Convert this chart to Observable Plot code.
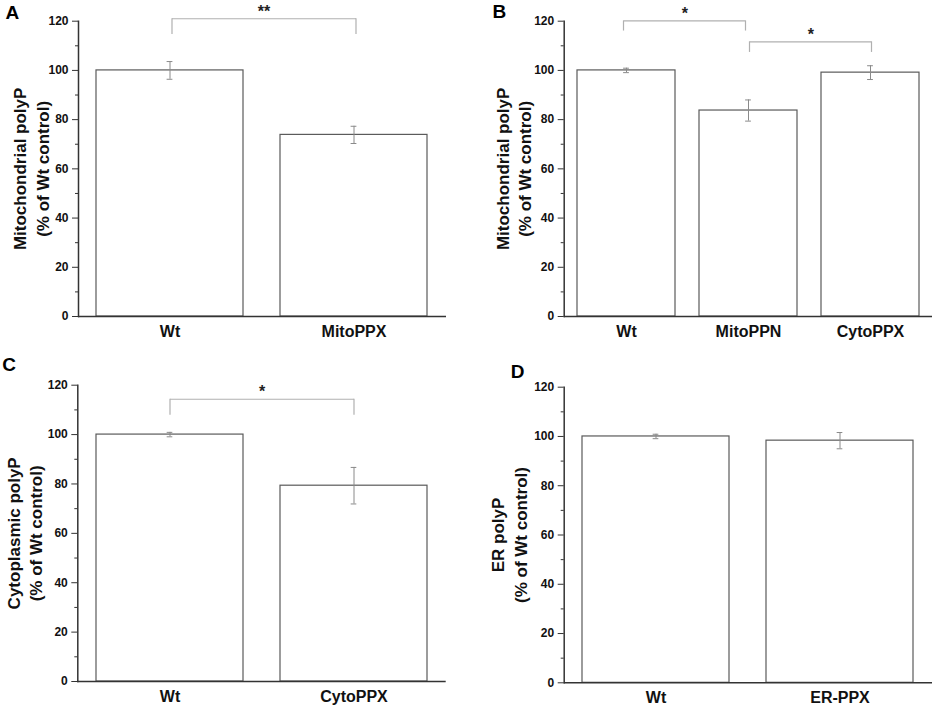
<!DOCTYPE html>
<html><head><meta charset="utf-8">
<script src="https://cdn.jsdelivr.net/npm/d3@7"></script>
<script src="https://cdn.jsdelivr.net/npm/@observablehq/plot@0.6"></script>
<style>
body{margin:0;background:#fff;}
#wrap{position:relative;width:934px;height:706px;background:#fff;}
.panel{position:absolute;}
</style></head><body><div id="wrap"></div>
<script>
// ---------- data ----------
const yTicks = [0, 20, 40, 60, 80, 100, 120];
const yMinorTicks = [10, 30, 50, 70, 90, 110];

// Panel A
const catsA = ["Wt", "MitoPPX"];
const meanA = [100, 73.8];
const errA = [3.6, 3.5];
const brFromA = ["Wt"], brToA = ["MitoPPX"], brTopA = [121], brLegA = [114.6], brLabelA = ["**"];
const titleA = "Mitochondrial polyP\n(% of Wt control)";

// Panel B
const catsB = ["Wt", "MitoPPN", "CytoPPX"];
const meanB = [100, 83.7, 99.1];
const errB = [0.9, 4.3, 2.8];
const brFromB = ["Wt", "MitoPPN"], brToB = ["MitoPPN", "CytoPPX"], brTopB = [120.1, 111.6], brLegB = [116, 107.3], brLabelB = ["*", "*"];
const titleB = "Mitochondrial polyP\n(% of Wt control)";

// Panel C
const catsC = ["Wt", "CytoPPX"];
const meanC = [100, 79.3];
const errC = [0.9, 7.4];
const brFromC = ["Wt"], brToC = ["CytoPPX"], brTopC = [114.3], brLegC = [107.8], brLabelC = ["*"];
const titleC = "Cytoplasmic polyP\n(% of Wt control)";

// Panel D
const catsD = ["Wt", "ER-PPX"];
const meanD = [100, 98.3];
const errD = [0.9, 3.3];
const brFromD = [], brToD = [], brTopD = [], brLegD = [], brLabelD = [];
const titleD = "ER polyP\n(% of Wt control)";

// ---------- drawing ----------
const FONT = "'Liberation Sans', Arial, Helvetica, sans-serif";
const PI = 0.2, PO = 0.1;

function panel(cfg) {
  const {cats, mean, err, brFrom, brTo, brTop, brLeg, brLabel, title, letter,
         width, height, ml, mr, mt, mb, titleDx, letterX, letterY, brDx} = cfg;
  const rows = cats.map((c, i) => ({cat: c, mean: mean[i], err: err[i]}));
  const inner = width - ml - mr;
  const step = inner / (cats.length - PI + 2 * PO);
  const bw = step * (1 - PI);
  const capInset = (bw - 6) / 2;

  const marks = [
    Plot.barY(rows, {x: "cat", y: "mean", fill: "white", stroke: "#5a5a5a", strokeWidth: 1.2}),
    Plot.ruleX(rows, {x: "cat", y1: d => d.mean - d.err, y2: d => d.mean + d.err, stroke: "#8a8a8a", strokeWidth: 1}),
    Plot.tickY(rows, {x: "cat", y: d => d.mean - d.err, inset: capInset, stroke: "#8a8a8a", strokeWidth: 1}),
    Plot.tickY(rows, {x: "cat", y: d => d.mean + d.err, inset: capInset, stroke: "#8a8a8a", strokeWidth: 1})
  ];

  brFrom.forEach((f, i) => {
    const t = brTo[i];
    const dx = brDx ? brDx[i] : 0;
    const br = [{a: f, b: t, top: brTop[i], leg: brLeg[i]}];
    const bc = "#b0b0b0";
    marks.push(
      Plot.link(br, {x1: "a", x2: "b", y1: "top", y2: "top", stroke: bc, strokeWidth: 1.2, dx}),
      Plot.ruleX(br, {x: "a", y1: "leg", y2: "top", stroke: bc, strokeWidth: 1.2, dx}),
      Plot.ruleX(br, {x: "b", y1: "leg", y2: "top", stroke: bc, strokeWidth: 1.2, dx}),
      Plot.text([{a: f, top: brTop[i], label: brLabel[i]}], {
        x: "a", y: "top", text: "label",
        dx: dx + (cats.indexOf(t) - cats.indexOf(f)) * step / 2,
        dy: -2, lineAnchor: "bottom", fontSize: 16, fontWeight: "bold", fill: "#222"
      })
    );
  });

  marks.push(
    Plot.axisY(yMinorTicks, {tickSize: 3, tickFormat: () => "", label: null, stroke: "#333"}),
    Plot.axisY(yTicks, {tickSize: 6, tickPadding: 4, fontSize: 12, fontWeight: "bold", label: null, stroke: "#333", fill: "#111"}),
    Plot.axisX({tickSize: 0, tickPadding: 9, fontSize: 16, fontWeight: "bold", label: null, fill: "#111"}),
    Plot.frame({anchor: "left", stroke: "#333", strokeWidth: 1.5}),
    Plot.ruleY([0], {stroke: "#333", strokeWidth: 1.5}),
    Plot.text([title], {
      frameAnchor: "left", rotate: -90, dx: titleDx, lineAnchor: "bottom",
      textAnchor: "middle", lineHeight: 1.32, fontSize: 17, fontWeight: "bold", fill: "#111"
    }),
    Plot.text([letter], {
      frameAnchor: "top-left", dx: letterX - ml, dy: letterY - mt,
      lineAnchor: "bottom", textAnchor: "start", fontSize: 19, fontWeight: "bold", fill: "#000"
    })
  );

  return Plot.plot({
    width, height,
    marginLeft: ml, marginRight: mr, marginTop: mt, marginBottom: mb,
    style: {fontFamily: FONT, background: "white", overflow: "visible"},
    x: {type: "band", domain: cats, paddingInner: PI, paddingOuter: PO, label: null},
    y: {domain: [0, 120], label: null},
    marks
  });
}

const panels = [
  {cats: catsA, mean: meanA, err: errA, brFrom: brFromA, brTo: brToA, brTop: brTopA, brLeg: brLegA, brLabel: brLabelA,
   title: titleA, letter: "A", left: 0, top: 0, width: 467, height: 350, ml: 78, mr: 21, mt: 20.7, mb: 34,
   titleDx: -30, letterX: 5, letterY: 18.3, brDx: [2]},
  {cats: catsB, mean: meanB, err: errB, brFrom: brFromB, brTo: brToB, brTop: brTopB, brLeg: brLegB, brLabel: brLabelB,
   title: titleB, letter: "B", left: 467, top: 0, width: 467, height: 350, ml: 96.7, mr: 2, mt: 20.7, mb: 34,
   titleDx: -33, letterX: 25, letterY: 17.3, brDx: [-3, 1]},
  {cats: catsC, mean: meanC, err: errC, brFrom: brFromC, brTo: brToC, brTop: brTopC, brLeg: brLegC, brLabel: brLabelC,
   title: titleC, letter: "C", left: 0, top: 350, width: 467, height: 356, ml: 77.3, mr: 21.3, mt: 34.7, mb: 25,
   titleDx: -35.6, letterX: 1.7, letterY: 20.7, brDx: [0]},
  {cats: catsD, mean: meanD, err: errD, brFrom: brFromD, brTo: brToD, brTop: brTopD, brLeg: brLegD, brLabel: brLabelD,
   title: titleD, letter: "D", left: 467, top: 350, width: 467, height: 356, ml: 96.7, mr: 2, mt: 36.7, mb: 23.7,
   titleDx: -37.7, letterX: 43.3, letterY: 27.3, brDx: []}
];

const wrap = document.getElementById("wrap");
for (const p of panels) {
  const el = panel(p);
  const div = document.createElement("div");
  div.className = "panel";
  div.style.left = p.left + "px";
  div.style.top = p.top + "px";
  div.appendChild(el);
  wrap.appendChild(div);
}
</script>
</body></html>
